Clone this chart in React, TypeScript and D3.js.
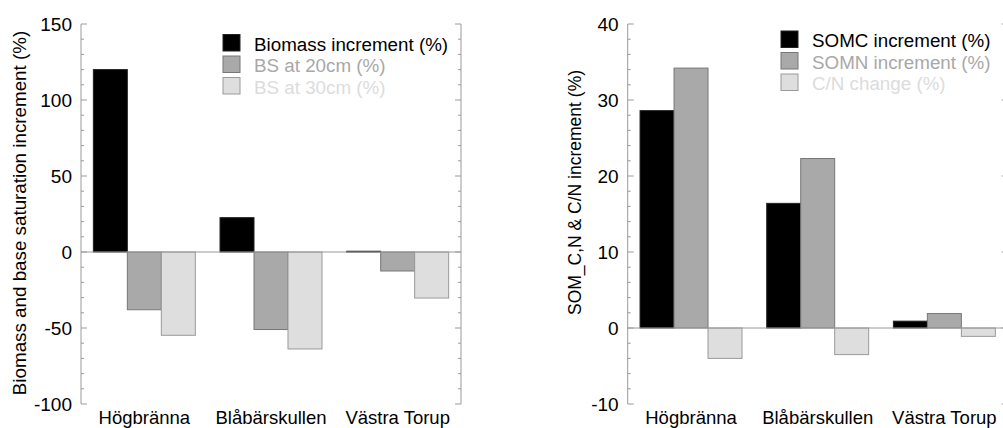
import React from "react";
import * as d3 from "d3";

const sites = ["Högbränna", "Blåbärskullen", "Västra Torup"];

const leftSeriesNames = ["Biomass increment (%)", "BS at 20cm (%)", "BS at 30cm (%)"];
const biomass = [120, 22.6, 0.5];
const bs20 = [-38, -51, -12.5];
const bs30 = [-54.8, -63.8, -30.3];

const rightSeriesNames = ["SOMC increment (%)", "SOMN increment (%)", "C/N change (%)"];
const somc = [28.6, 16.4, 0.9];
const somn = [34.2, 22.3, 1.9];
const cnChange = [-4, -3.5, -1.1];

const leftTicks = [-100, -50, 0, 50, 100, 150];
const rightTicks = [-10, 0, 10, 20, 30, 40];

const fills = ["#000000", "#a9a9a9", "#dedede"];
const strokes = ["#222222", "#777777", "#9a9a9a"];
const legendText = ["#000000", "#a8a8a8", "#dcdcdc"];
const axisColor = "#9a9a9a";
const FONT = "'Liberation Sans', Arial, sans-serif";

type PanelProps = {
  x0: number;
  x1: number;
  domain: [number, number];
  majorTicks: number[];
  minorStep: number;
  series: number[][];
  names: string[];
  title: string;
  titleX: number;
  titleY: number;
  titleSize: number;
  legendX: number;
  legendY: number;
};

function Panel(p: PanelProps) {
  const top = 24;
  const bottom = 404;
  const y = d3.scaleLinear().domain(p.domain).range([bottom, top]);
  const x = d3.scaleBand<string>().domain(sites).range([p.x0, p.x1]).paddingInner(0.195).paddingOuter(0.0975);
  const inner = d3
    .scaleBand<number>()
    .domain(d3.range(p.series.length))
    .range([0, x.bandwidth()]);
  const minor = d3.range(p.domain[0], p.domain[1] + 0.0001, p.minorStep).filter(
    (v) => !p.majorTicks.some((m) => Math.abs(m - v) < 1e-6)
  );
  const sides = [
    { ax: p.x0, dir: 1 },
    { ax: p.x1, dir: -1 },
  ];
  return (
    <g>
      {/* bars */}
      {p.series.map((vals, si) =>
        vals.map((v, ci) => {
          const bx = (x(sites[ci]) as number) + (inner(si) as number);
          const y0 = y(0);
          const yv = y(v);
          return (
            <rect
              key={`b${si}-${ci}`}
              x={bx}
              y={Math.min(y0, yv)}
              width={inner.bandwidth()}
              height={Math.max(0.6, Math.abs(yv - y0))}
              fill={fills[si]}
              stroke={strokes[si]}
              strokeWidth={1}
            />
          );
        })
      )}
      {/* zero line */}
      <line x1={p.x0} x2={p.x1} y1={y(0)} y2={y(0)} stroke={axisColor} strokeWidth={1} />
      {/* axes */}
      {sides.map((s, i) => (
        <g key={`ax${i}`}>
          <line x1={s.ax} x2={s.ax} y1={top} y2={bottom} stroke={axisColor} strokeWidth={1} />
          {p.majorTicks.map((t) => (
            <line key={`M${t}`} x1={s.ax} x2={s.ax + s.dir * 6} y1={y(t)} y2={y(t)} stroke={axisColor} strokeWidth={1} />
          ))}
          {minor.map((t) => (
            <line key={`m${t}`} x1={s.ax} x2={s.ax + s.dir * 3} y1={y(t)} y2={y(t)} stroke={axisColor} strokeWidth={1} />
          ))}
        </g>
      ))}
      {/* tick labels */}
      {p.majorTicks.map((t) => (
        <text
          key={`l${t}`}
          x={p.x0 - 9}
          y={y(t) + 6.8}
          textAnchor="end"
          fontSize={19}
          fontFamily={FONT}
          fill="#000"
        >
          {t}
        </text>
      ))}
      {/* category labels */}
      {sites.map((s) => (
        <text
          key={s}
          x={(x(s) as number) + x.bandwidth() / 2}
          y={424}
          textAnchor="middle"
          fontSize={18.5}
          fontFamily={FONT}
          fill="#000"
        >
          {s}
        </text>
      ))}
      {/* y title */}
      <text
        transform={`translate(${p.titleX},${p.titleY}) rotate(-90)`}
        textAnchor="middle"
        fontSize={p.titleSize}
        fontFamily={FONT}
        fill="#000"
      >
        {p.title}
      </text>
      {/* legend */}
      {p.names.map((n, i) => (
        <g key={n} transform={`translate(${p.legendX},${p.legendY + i * 21.5})`}>
          <rect x={0} y={0} width={17} height={16.5} fill={fills[i]} stroke={strokes[i]} strokeWidth={1} />
          <text x={31} y={16} fontSize={18.8} fontFamily={FONT} fill={legendText[i]}>
            {n}
          </text>
        </g>
      ))}
    </g>
  );
}

export default function App() {
  return (
    <svg width={1003} height={428} style={{ position: "absolute", left: 0, top: 0, background: "#fff" }}>
      <rect x={0} y={0} width={1003} height={428} fill="#fff" />
      <Panel
        x0={81}
        x1={461}
        domain={[-100, 150]}
        majorTicks={leftTicks}
        minorStep={10}
        series={[biomass, bs20, bs30]}
        names={leftSeriesNames}
        title="Biomass and base saturation increment (%)"
        titleX={25.5}
        titleY={213}
        titleSize={18.8}
        legendX={223}
        legendY={34.5}
      />
      <Panel
        x0={627.7}
        x1={1007.7}
        domain={[-10, 40]}
        majorTicks={rightTicks}
        minorStep={2}
        series={[somc, somn, cnChange]}
        names={rightSeriesNames}
        title="SOM_C,N & C/N increment (%)"
        titleX={580.5}
        titleY={192.5}
        titleSize={17.5}
        legendX={781}
        legendY={31}
      />
    </svg>
  );
}
